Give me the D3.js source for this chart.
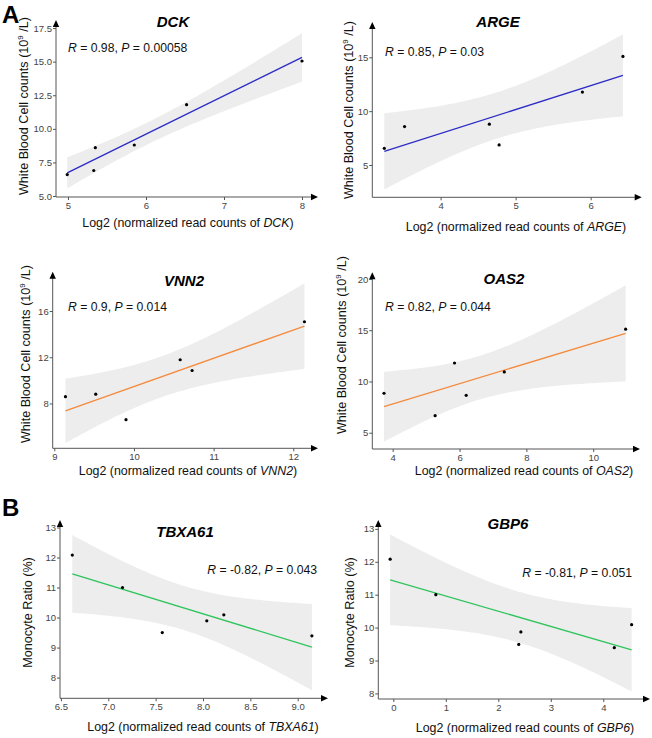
<!DOCTYPE html>
<html><head><meta charset="utf-8">
<script src="https://cdn.jsdelivr.net/npm/d3@7"></script>
<style>body{margin:0;background:#fff} svg text{font-family:"Liberation Sans",Arial,sans-serif}</style>
</head><body><svg id="c" width="652" height="738"></svg>
<script>
// ---- data ----
const genes = ["DCK","ARGE","VNN2","OAS2","TBXA61","GBP6"];
const dckX = [4.99,5.33,5.35,5.85,6.52,8.0];
const dckY = [6.6,6.9,8.6,8.8,11.8,15.05];
const argeX = [3.25,3.52,4.65,4.78,5.89,6.43];
const argeY = [6.55,8.57,8.79,6.86,11.77,15.08];
const vnn2X = [9.14,9.52,9.9,10.58,10.73,12.14];
const vnn2Y = [8.59,8.8,6.6,11.78,10.85,15.07];
const oas2X = [3.74,5.27,5.85,6.2,7.34,10.97];
const oas2Y = [8.85,6.66,11.8,8.65,10.93,15.1];
const tbxX = [6.62,7.15,7.57,8.04,8.22,9.15];
const tbxY = [12.08,11.0,9.5,9.89,10.09,9.39];
const gbpX = [-0.06,0.81,2.39,2.43,4.21,4.54];
const gbpY = [12.08,11.0,9.49,9.87,9.39,10.09];
const rLabels = ["0.98","0.85","0.9","0.82","-0.82","-0.81"];
const pLabels = ["0.00058","0.03","0.014","0.044","0.043","0.051"];
const xTicks = [[5,6,7,8],[4,5,6],[9,10,11,12],[4,6,8,10],[6.5,7,7.5,8,8.5,9],[0,1,2,3,4]];
const yTicks = [[5,7.5,10,12.5,15,17.5],[5,10,15],[8,12,16],[5,10,15,20],[8,9,10,11,12,13],[8,9,10,11,12,13]];
const yLabelsText = ["wbc","wbc","wbc","wbc","mono","mono"];
const panelLetters = ["A","B"];

// ---- layout ----
const layout = [
 {xd:[4.846,8.205], xr:[56,318], yd:[4.93,18.1], yr:[197,20], title:[173,21], stat:[68,48,"start"], xlab:[188,223], ylab:[24,106], color:"#2b2bc6", xf:d3.format("d"), yf:d3.format(".1f")},
 {xd:[3.09,6.68], xr:[372.3,641.7], yd:[2.0,18.28], yr:[197.3,22], title:[498,21], stat:[385,52,"start"], xlab:[516,227], ylab:[349,110], color:"#2b2bc6", xf:d3.format("d"), yf:d3.format("d")},
 {xd:[8.98,12.31], xr:[52.7,318], yd:[4.12,19.4], yr:[448.3,271.7], title:[184,280], stat:[68,307,"start"], xlab:[188,471], ylab:[26,354], color:"#f48a3c", xf:d3.format("d"), yf:d3.format("d")},
 {xd:[3.39,11.4], xr:[372.3,640], yd:[3.41,20.65], yr:[449,272.3], title:[504,278], stat:[385,307,"start"], xlab:[524,471], ylab:[341.5,345], color:"#f48a3c", xf:d3.format("d"), yf:d3.format("d")},
 {xd:[6.49,9.32], xr:[60,328], yd:[7.31,13.25], yr:[698.3,520], title:[185,531], stat:[317,570,"end"], xlab:[203,727], ylab:[28,612.5], color:"#2ec45c", xf:d3.format(".1f"), yf:d3.format("d")},
 {xd:[-0.286,4.89], xr:[378.3,650], yd:[7.83,13.27], yr:[699,520], title:[508,523], stat:[632,573,"end"], xlab:[525,728], ylab:[350,612.5], color:"#2ec45c", xf:d3.format("d"), yf:d3.format("d")}
];
const datasets = [[dckX,dckY],[argeX,argeY],[vnn2X,vnn2Y],[oas2X,oas2Y],[tbxX,tbxY],[gbpX,gbpY]];
const T975_DF4 = 2.776445;

const svg = d3.select("#c");

function fit(xs, ys){
  const n = xs.length, mx = d3.mean(xs), my = d3.mean(ys);
  let sxy=0, sxx=0;
  xs.forEach((x,i)=>{sxy+=(x-mx)*(ys[i]-my); sxx+=(x-mx)*(x-mx);});
  const b = sxy/sxx, a = my - b*mx;
  let sse=0; xs.forEach((x,i)=>{const r=ys[i]-(a+b*x); sse+=r*r;});
  const s = Math.sqrt(sse/(n-2));
  return {a,b,s,sxx,mx,n};
}

layout.forEach((L,i)=>{
  const [xs,ys] = datasets[i];
  const x = d3.scaleLinear().domain(L.xd).range(L.xr);
  const y = d3.scaleLinear().domain(L.yd).range(L.yr);
  const g = svg.append("g");
  const f = fit(xs,ys);
  const x0 = d3.min(xs), x1 = d3.max(xs);
  const grid = d3.range(0,81).map(k=>x0+(x1-x0)*k/80);
  const band = grid.map(v=>{
    const yh = f.a+f.b*v;
    const se = f.s*Math.sqrt(1/f.n + (v-f.mx)*(v-f.mx)/f.sxx);
    return {x:v, lo:yh-T975_DF4*se, hi:yh+T975_DF4*se};
  });
  g.append("path").datum(band)
    .attr("d", d3.area().x(d=>x(d.x)).y0(d=>y(d.lo)).y1(d=>y(d.hi)))
    .attr("fill","#ededed");
  g.append("line")
    .attr("x1",x(x0)).attr("y1",y(f.a+f.b*x0))
    .attr("x2",x(x1)).attr("y2",y(f.a+f.b*x1))
    .attr("stroke",L.color).attr("stroke-width",1.3);
  g.selectAll("circle").data(xs).join("circle")
    .attr("cx",(d)=>x(d)).attr("cy",(d,k)=>y(ys[k])).attr("r",1.6).attr("fill","#000");

  // axes
  const ax = g.append("g").attr("transform",`translate(0,${L.yr[0]})`)
    .call(d3.axisBottom(x).tickValues(xTicks[i]).tickFormat(L.xf).tickSize(3).tickSizeOuter(0));
  const ay = g.append("g").attr("transform",`translate(${L.xr[0]},0)`)
    .call(d3.axisLeft(y).tickValues(yTicks[i]).tickFormat(L.yf).tickSize(3).tickSizeOuter(0));
  [ax,ay].forEach(a=>{
    a.select(".domain").remove();
    a.selectAll(".tick line").attr("stroke","#555");
    a.selectAll(".tick text").attr("fill","#444").style("font-size","9.5px")
      .style("font-family","'Liberation Sans',Arial,sans-serif");
  });
  ay.selectAll(".tick text").attr("x",-4);
  ax.selectAll(".tick text").attr("y",5);
  const L0 = L.xr[0], R0 = L.xr[1], B0 = L.yr[0], T0 = L.yr[1];
  g.append("line").attr("x1",L0).attr("y1",B0).attr("x2",R0-5).attr("y2",B0).attr("stroke","#555").attr("stroke-width",1);
  g.append("line").attr("x1",L0).attr("y1",B0).attr("x2",L0).attr("y2",T0+5).attr("stroke","#555").attr("stroke-width",1);
  g.append("path").attr("d",`M${R0},${B0} L${R0-7},${B0-3.2} L${R0-7},${B0+3.2} Z`).attr("fill","#000");
  g.append("path").attr("d",`M${L0},${T0} L${L0-3.2},${T0+7} L${L0+3.2},${T0+7} Z`).attr("fill","#000");

  // title
  g.append("text").attr("x",L.title[0]).attr("y",L.title[1]).attr("text-anchor","middle")
    .attr("dominant-baseline","central").style("font-size","15px").style("font-weight","bold")
    .style("font-style","italic").text(genes[i]);
  // stat
  const st = g.append("text").attr("x",L.stat[0]).attr("y",L.stat[1]).attr("text-anchor",L.stat[2])
    .attr("dominant-baseline","central").style("font-size","12.2px").attr("fill","#111");
  st.append("tspan").style("font-style","italic").text("R");
  st.append("tspan").text(` = ${rLabels[i]}, `);
  st.append("tspan").style("font-style","italic").text("P");
  st.append("tspan").text(` = ${pLabels[i]}`);
  // x label
  const xl = g.append("text").attr("x",L.xlab[0]).attr("y",L.xlab[1]).attr("text-anchor","middle")
    .attr("dominant-baseline","central").style("font-size","12.4px").attr("fill","#111");
  xl.append("tspan").text("Log2 (normalized read counts of ");
  xl.append("tspan").style("font-style","italic").text(genes[i]);
  xl.append("tspan").text(")");
  // y label
  const yl = g.append("text").attr("transform",`translate(${L.ylab[0]},${L.ylab[1]}) rotate(-90)`)
    .attr("text-anchor","middle").attr("dominant-baseline","central").style("font-size","12.6px").attr("fill","#111");
  if (yLabelsText[i]==="wbc"){
    yl.append("tspan").text("White Blood Cell counts (10");
    yl.append("tspan").attr("dy",-4).style("font-size","8px").text("9");
    yl.append("tspan").attr("dy",4).text(" /L)");
  } else {
    yl.append("tspan").text("Monocyte Ratio (%)");
  }
});

svg.append("text").attr("x",2).attr("y",23).style("font-size","24px").style("font-weight","bold").text(panelLetters[0]);
svg.append("text").attr("x",2).attr("y",516).style("font-size","24px").style("font-weight","bold").text(panelLetters[1]);
</script>
</body></html>
